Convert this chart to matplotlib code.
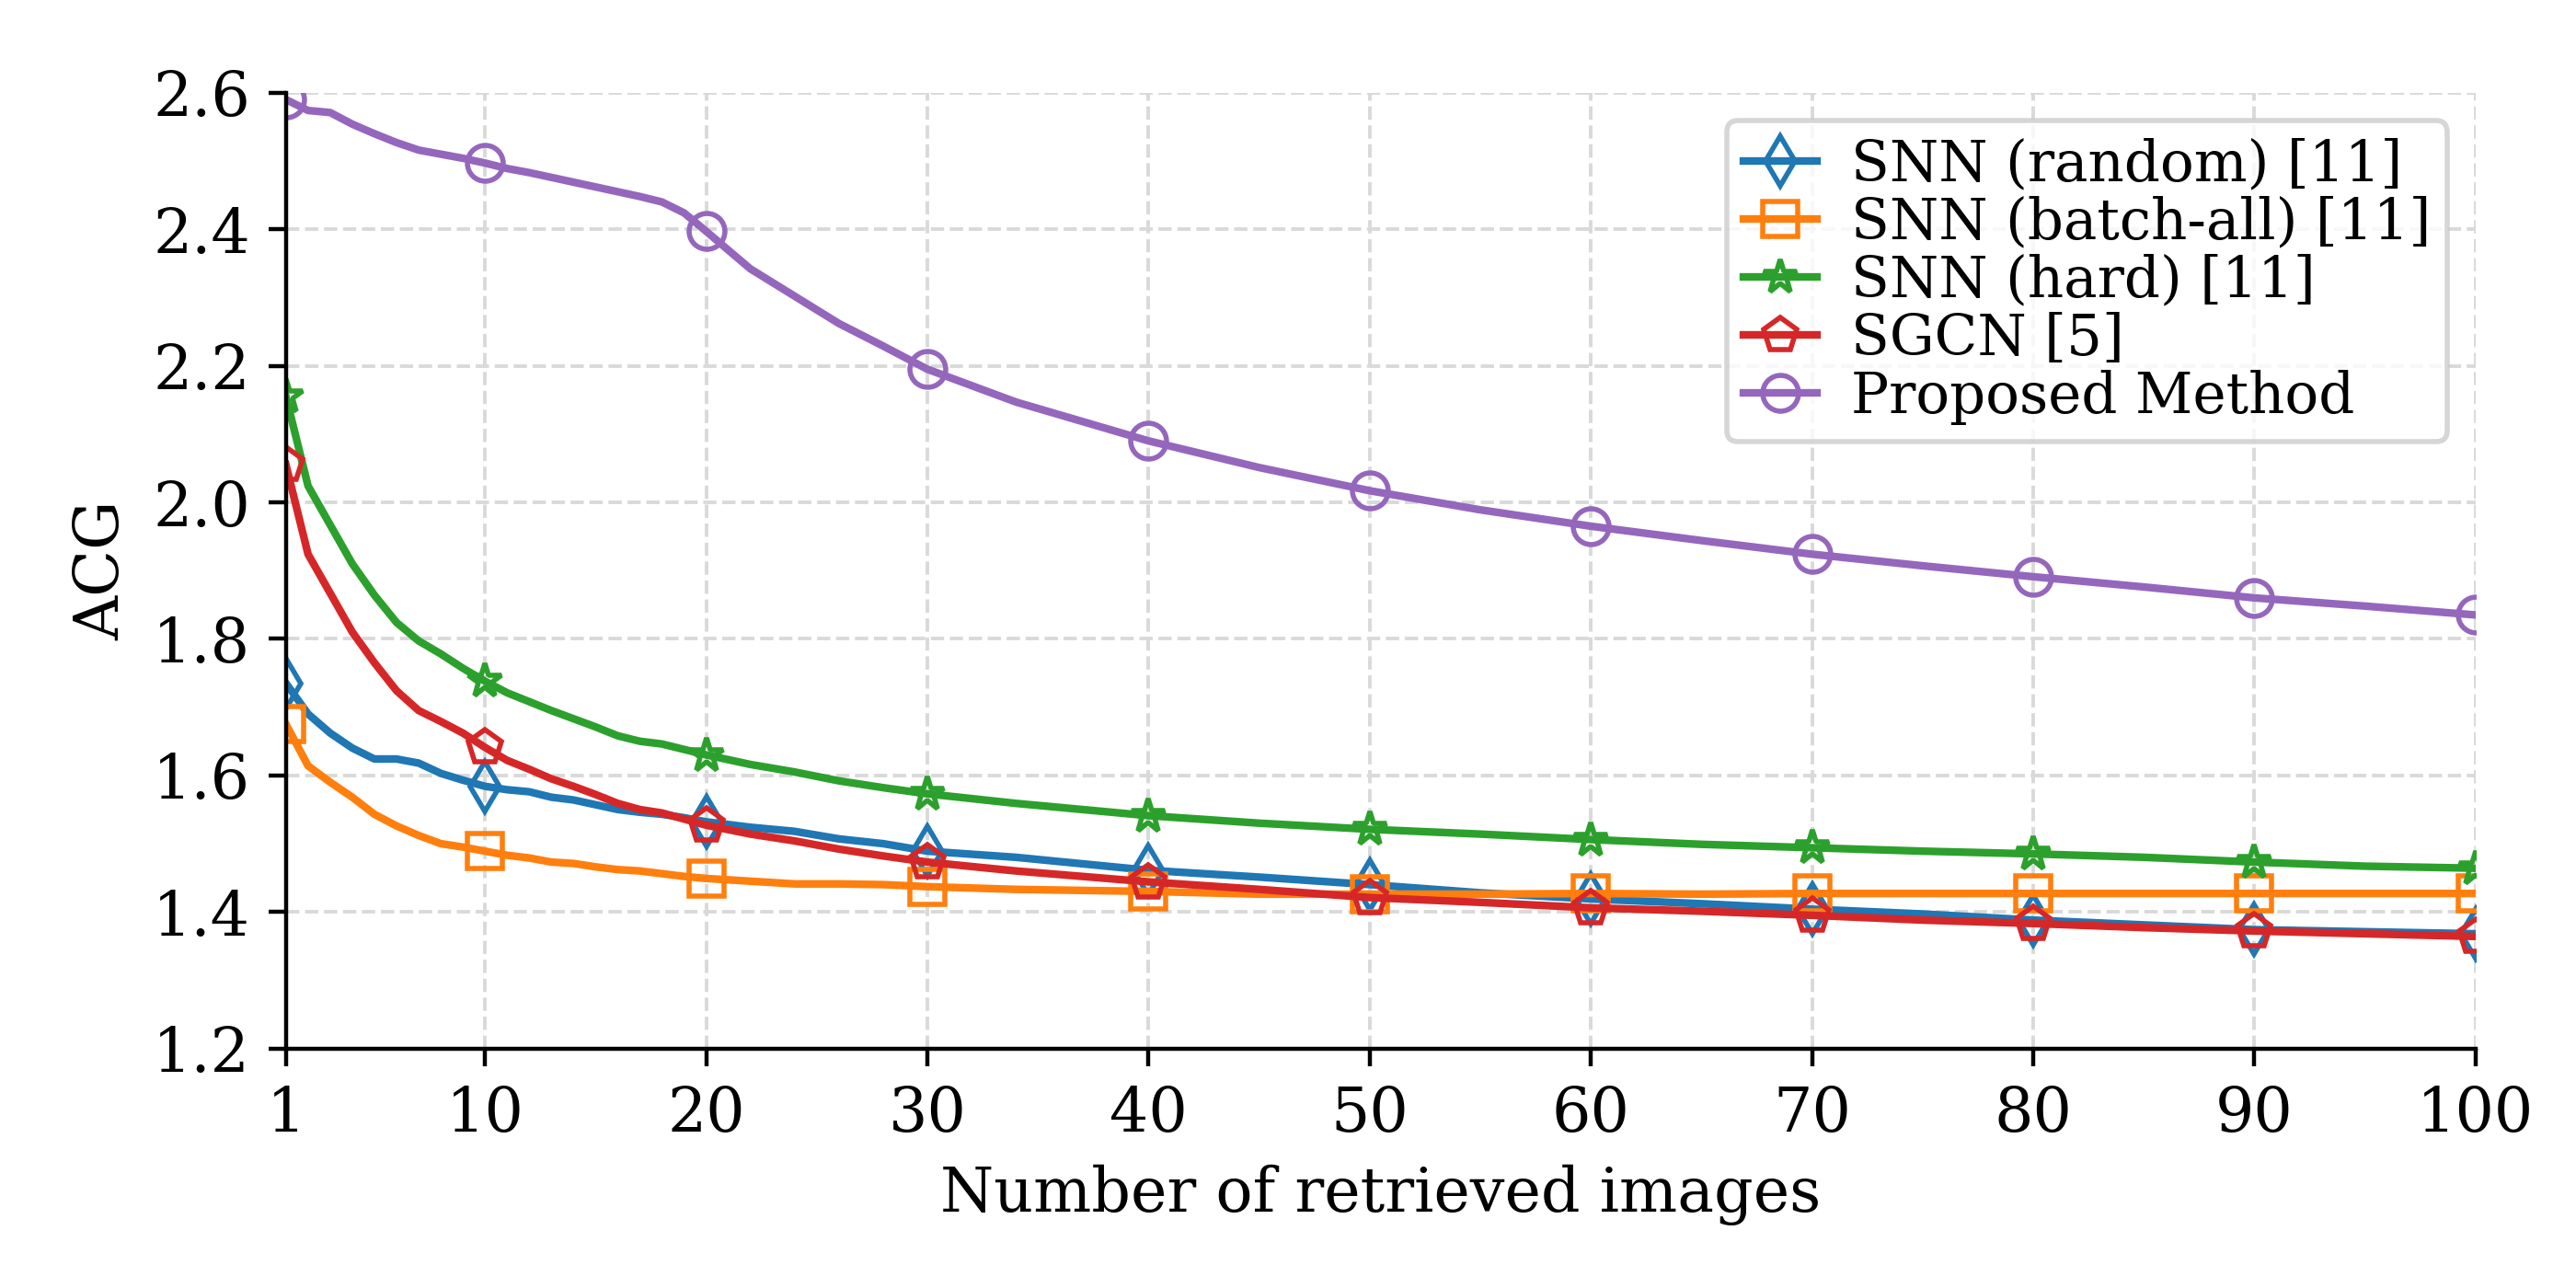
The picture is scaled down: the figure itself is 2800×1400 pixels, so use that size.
import matplotlib
matplotlib.use("Agg")
import matplotlib.pyplot as plt

plt.rcParams["font.family"] = "DejaVu Serif"
plt.rcParams["font.size"] = 12

# number of retrieved images
k = [1, 2, 3, 4, 5, 6, 7, 8, 9, 10, 11, 12, 13, 14, 15, 16, 17, 18, 19, 20,
     22, 24, 26, 28, 30, 34, 40, 45, 50, 55, 60, 65, 70, 75, 80, 85, 90, 95, 100]

snn_random = [1.735, 1.690, 1.662, 1.640, 1.624, 1.624, 1.618, 1.603, 1.593, 1.584,
              1.579, 1.576, 1.568, 1.564, 1.557, 1.550, 1.546, 1.543, 1.538, 1.532,
              1.524, 1.518, 1.507, 1.500, 1.489, 1.480, 1.461, 1.451, 1.440, 1.428,
              1.419, 1.412, 1.404, 1.397, 1.388, 1.381, 1.374, 1.371, 1.368]
snn_batchall = [1.675, 1.614, 1.590, 1.568, 1.543, 1.526, 1.512, 1.500, 1.495, 1.489,
                1.483, 1.479, 1.473, 1.471, 1.466, 1.462, 1.460, 1.456, 1.452, 1.449,
                1.445, 1.441, 1.441, 1.440, 1.437, 1.433, 1.430, 1.426, 1.426, 1.426,
                1.427, 1.426, 1.427, 1.427, 1.427, 1.427, 1.427, 1.427, 1.427]
snn_hard = [2.155, 2.024, 1.967, 1.910, 1.864, 1.824, 1.797, 1.778, 1.757, 1.738,
            1.721, 1.708, 1.695, 1.683, 1.671, 1.658, 1.650, 1.646, 1.638, 1.630,
            1.616, 1.605, 1.592, 1.582, 1.573, 1.559, 1.541, 1.530, 1.521, 1.514,
            1.506, 1.499, 1.494, 1.489, 1.485, 1.480, 1.473, 1.467, 1.464]
sgcn = [2.055, 1.924, 1.867, 1.810, 1.765, 1.724, 1.695, 1.679, 1.662, 1.641,
        1.622, 1.609, 1.595, 1.584, 1.572, 1.559, 1.550, 1.545, 1.536, 1.527,
        1.514, 1.504, 1.492, 1.482, 1.473, 1.460, 1.444, 1.433, 1.421, 1.414,
        1.406, 1.401, 1.395, 1.388, 1.383, 1.377, 1.372, 1.368, 1.364]
proposed = [2.590, 2.574, 2.571, 2.554, 2.540, 2.527, 2.516, 2.510, 2.504, 2.497,
            2.489, 2.483, 2.476, 2.469, 2.462, 2.455, 2.448, 2.440, 2.424, 2.397,
            2.342, 2.302, 2.262, 2.229, 2.195, 2.147, 2.090, 2.051, 2.017, 1.989,
            1.965, 1.944, 1.924, 1.907, 1.891, 1.876, 1.860, 1.848, 1.835]

xticks = [1, 10, 20, 30, 40, 50, 60, 70, 80, 90, 100]
marks = [i for i, v in enumerate(k) if v in xticks]

series = [
    ("SNN (random) [11]", snn_random, "d", "tab:blue"),
    ("SNN (batch-all) [11]", snn_batchall, "s", "tab:orange"),
    ("SNN (hard) [11]", snn_hard, "*", "tab:green"),
    ("SGCN [5]", sgcn, "p", "tab:red"),
    ("Proposed Method", proposed, "o", "tab:purple"),
]

fig, ax = plt.subplots(figsize=(7, 3.5), dpi=400)
fig.subplots_adjust(left=0.111, right=0.961, bottom=0.186, top=0.928)

for label, vals, m, c in series:
    ax.plot(k, vals, color=c, marker=m, markevery=marks, markersize=7,
            markerfacecolor="none", markeredgewidth=1.0, linewidth=1.5,
            label=label)

ax.set_xlim(1, 100)
ax.set_ylim(1.2, 2.6)
ax.set_xticks(xticks)
ax.set_yticks([1.2, 1.4, 1.6, 1.8, 2.0, 2.2, 2.4, 2.6])
ax.set_yticklabels([f"{v:.1f}" for v in ax.get_yticks()])
ax.set_xlabel("Number of retrieved images")
ax.set_ylabel("ACG")
ax.grid(True, linestyle="--", color="#d9d9d9", linewidth=0.7)
ax.spines["top"].set_visible(False)
ax.spines["right"].set_visible(False)
ax.legend(loc="upper right", fontsize=11, labelspacing=0.05, handlelength=1.3,
          handletextpad=0.6, borderpad=0.3)

fig.savefig("out.png", dpi=400)
